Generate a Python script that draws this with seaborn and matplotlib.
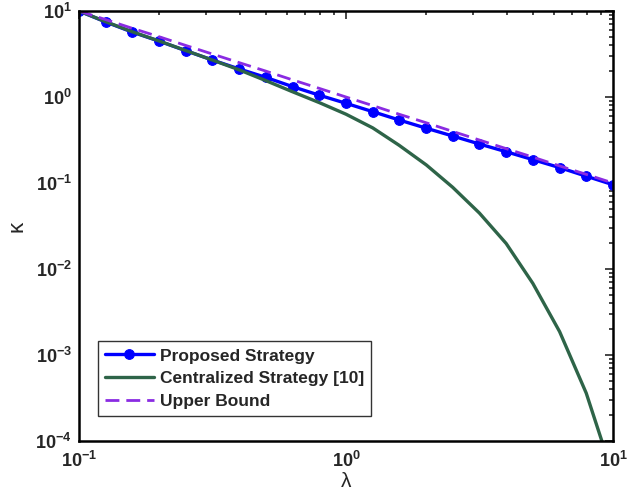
import math
import matplotlib
matplotlib.use('Agg')
import matplotlib.pyplot as plt
import seaborn as sns
from matplotlib.ticker import LogLocator, NullFormatter, FuncFormatter

# lambda sampled at 10 points per decade
lam = [0.1, 0.126, 0.158, 0.2, 0.251, 0.316, 0.398, 0.501, 0.631, 0.794,
       1.0, 1.26, 1.58, 2.0, 2.51, 3.16, 3.98, 5.01, 6.31, 7.94, 10.0]

proposed = [10.0, 7.45, 5.70, 4.45, 3.46, 2.69, 2.12, 1.69, 1.32, 1.05,
            0.845, 0.675, 0.541, 0.433, 0.352, 0.284, 0.231, 0.187, 0.151, 0.120, 0.0955]

centralized = [10.0, 7.5, 5.75, 4.47, 3.47, 2.69, 2.07, 1.55, 1.15, 0.861,
               0.631, 0.437, 0.275, 0.162, 0.0891, 0.0447, 0.0198, 0.0068, 0.00187, 0.00036, 0.00004]

upper = [10.0, 7.94, 6.31, 5.01, 3.98, 3.16, 2.51, 2.0, 1.58, 1.26,
         1.0, 0.794, 0.631, 0.501, 0.398, 0.316, 0.251, 0.2, 0.158, 0.126, 0.1]

sns.set_style("white")
plt.rcParams['font.family'] = ['Liberation Sans', 'DejaVu Sans']
plt.rcParams['mathtext.fontset'] = 'custom'
plt.rcParams['mathtext.rm'] = 'Liberation Sans:bold'
plt.rcParams['mathtext.bf'] = 'Liberation Sans:bold'

fig = plt.figure(figsize=(6.41, 4.98), dpi=100)
ax = fig.add_axes([0.1232, 0.1145, 0.9563 - 0.1232, 0.9779 - 0.1145])

sns.lineplot(x=lam, y=proposed, ax=ax, color='#0000ff', linewidth=2.4, marker='o',
             markersize=7, markeredgecolor='#0000ff', label='Proposed Strategy')
sns.lineplot(x=lam, y=centralized, ax=ax, color='#2e6448', linewidth=2.4,
             label='Centralized Strategy [10]')
sns.lineplot(x=lam, y=upper, ax=ax, color='#8a2be2', linewidth=2.0,
             linestyle=(0, (5, 2.5)), label='Upper Bound')

ax.set_xscale('log')
ax.set_yscale('log')
ax.set_xlim(0.1, 10)
ax.set_ylim(1e-4, 10)

fmt = FuncFormatter(lambda v, p: r'$\mathbf{10^{%d}}$' % round(math.log10(v)))
ax.xaxis.set_major_formatter(fmt)
ax.yaxis.set_major_formatter(fmt)
ax.xaxis.set_major_locator(LogLocator(base=10, numticks=10))
ax.yaxis.set_major_locator(LogLocator(base=10, numticks=10))
ax.xaxis.set_minor_locator(LogLocator(base=10, subs=range(2, 10), numticks=20))
ax.yaxis.set_minor_locator(LogLocator(base=10, subs=range(2, 10), numticks=20))
ax.xaxis.set_minor_formatter(NullFormatter())
ax.yaxis.set_minor_formatter(NullFormatter())

ax.tick_params(which='both', direction='in', top=True, right=True, width=1.2,
               labelsize=13)
ax.tick_params(axis='x', pad=7)
ax.tick_params(axis='y', pad=5)
ax.tick_params(which='major', length=6)
ax.tick_params(which='minor', length=3)
for s in ax.spines.values():
    s.set_linewidth(1.8)
    s.set_color('black')

ax.set_xlabel('λ', fontsize=15, labelpad=1)
ax.set_ylabel('κ', fontsize=16, labelpad=6)

leg = ax.legend(loc='lower left', bbox_to_anchor=(0.0356, 0.058),
                prop={'family': 'Liberation Sans', 'weight': 'bold', 'size': 12.5},
                frameon=True, fancybox=False, edgecolor='black', borderpad=0.4,
                handlelength=2.8, handletextpad=0.35, labelspacing=0.44, borderaxespad=0)
leg.get_frame().set_linewidth(1.0)

fig.savefig('out.png', dpi=100)
